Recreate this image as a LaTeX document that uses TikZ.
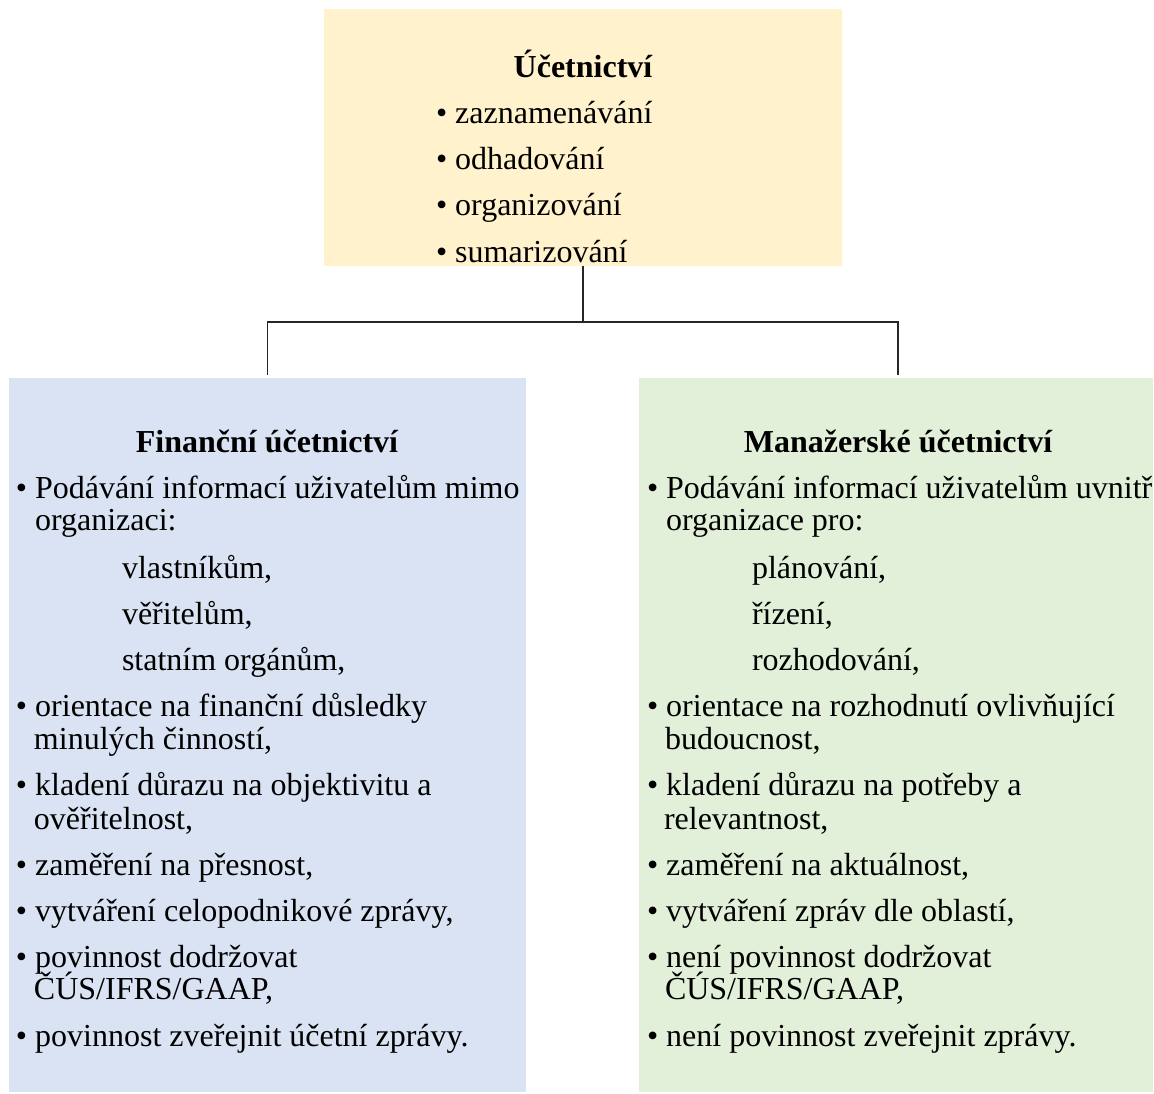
\documentclass[tikz,border=0pt]{standalone}
\usepackage{fontspec}
\setmainfont{Liberation Serif}
\definecolor{yel}{HTML}{FFF2CC}
\definecolor{blu}{HTML}{DAE3F3}
\definecolor{grn}{HTML}{E2F0D9}
\begin{document}
\begin{tikzpicture}[x=1pt,y=-1pt,
  panel/.style={inner sep=0pt, outer sep=0pt, anchor=north west},
  txt/.style={inner sep=0pt, outer sep=0pt, anchor=base west, font=\fontsize{32}{32}\selectfont},
  ttl/.style={inner sep=0pt, outer sep=0pt, anchor=base, font=\fontsize{32}{32}\selectfont\bfseries},
  conn/.style={line width=1.3pt, draw=black!85}]
\useasboundingbox (0,0) rectangle (1154,1094);
% panels
\node[panel, fill=yel, minimum width=518pt, minimum height=257pt] (top) at (324,9) {};
\node[panel, fill=blu, minimum width=517pt, minimum height=714pt] (fin) at (9,378) {};
\node[panel, fill=grn, minimum width=514pt, minimum height=714pt] (man) at (639,378) {};
% connectors
\coordinate (jn) at (583,322);
\draw[conn] (top.south) -- (jn);
\draw[conn] (jn) -| ([yshift=3pt]fin.north);
\draw[conn] (jn) -| ([yshift=3pt,xshift=2pt]man.north);
% top text
\node[ttl] (t0) at (583,78) {Účetnictví};
\node[txt] (t1) at (436,124) {• zaznamenávání};
\node[txt] (t2) at (436,170) {• odhadování};
\node[txt] (t3) at (436,216) {• organizování};
\node[txt] (t4) at (436,262) {• sumarizování};
% left text
\node[ttl] (l0) at (267,452) {Finanční účetnictví};
\node[txt] (l1) at (16,498) {• Podávání informací uživatelům mimo};
\node[txt] (l2) at (35,530) {organizaci:};
\node[txt] (l3) at (122,578) {vlastníkům,};
\node[txt] (l4) at (122,624) {věřitelům,};
\node[txt] (l5) at (122,670) {statním orgánům,};
\node[txt] (l6) at (16,716) {• orientace na finanční důsledky};
\node[txt] (l7) at (34,749) {minulých činností,};
\node[txt] (l8) at (16,795) {• kladení důrazu na objektivitu a};
\node[txt] (l9) at (34,829) {ověřitelnost,};
\node[txt] (l10) at (16,875) {• zaměření na přesnost,};
\node[txt] (l11) at (16,921) {• vytváření celopodnikové zprávy,};
\node[txt] (l12) at (16,967) {• povinnost dodržovat};
\node[txt] (l13) at (34,999) {ČÚS/IFRS/GAAP,};
\node[txt] (l14) at (16,1046) {• povinnost zveřejnit účetní zprávy.};
% right text
\node[ttl] (r0) at (898,452) {Manažerské účetnictví};
\node[txt] (r1) at (647,498) {• Podávání informací uživatelům uvnitř};
\node[txt] (r2) at (666,530) {organizace pro:};
\node[txt] (r3) at (752,578) {plánování,};
\node[txt] (r4) at (752,624) {řízení,};
\node[txt] (r5) at (752,670) {rozhodování,};
\node[txt] (r6) at (647,716) {• orientace na rozhodnutí ovlivňující};
\node[txt] (r7) at (665,749) {budoucnost,};
\node[txt] (r8) at (647,795) {• kladení důrazu na potřeby a};
\node[txt] (r9) at (664,829) {relevantnost,};
\node[txt] (r10) at (647,875) {• zaměření na aktuálnost,};
\node[txt] (r11) at (647,921) {• vytváření zpráv dle oblastí,};
\node[txt] (r12) at (647,967) {• není povinnost dodržovat};
\node[txt] (r13) at (665,999) {ČÚS/IFRS/GAAP,};
\node[txt] (r14) at (647,1046) {• není povinnost zveřejnit zprávy.};
\end{tikzpicture}
\end{document}
